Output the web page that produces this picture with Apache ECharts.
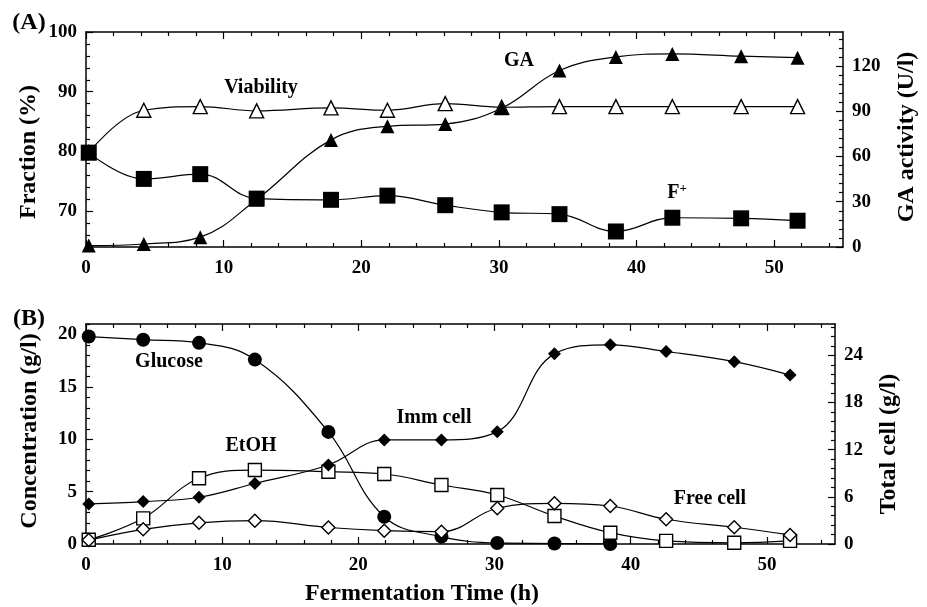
<!DOCTYPE html>
<html>
<head>
<meta charset="utf-8">
<script src="https://cdn.jsdelivr.net/npm/echarts@6/dist/echarts.min.js"></script>
<style>
  html, body { margin: 0; padding: 0; background: #fff; }
  #main { width: 927px; height: 607px; }
</style>
</head>
<body>
<div id="main"></div>
<script>
// sampling times (h), shared by both panels
var timeH = [0.2, 4.2, 8.3, 12.4, 17.8, 21.9, 26.1, 30.2, 34.4, 38.5, 42.6, 47.6, 51.7];

// (A) fraction (%) and GA activity (U/l)
var viability = [79.8, 86.9, 87.5, 86.8, 87.3, 86.9, 88.0, 87.4, 87.5, 87.5, 87.5, 87.5, 87.5];
var fPlus = [79.8, 75.4, 76.2, 72.1, 71.9, 72.6, 71.0, 69.8, 69.5, 66.6, 68.9, 68.8, 68.4];
var gaActivity = [1, 2, 6.5, 31.5, 71, 80, 81.5, 92, 117, 126, 128, 126.5, 125.5];

// (B) concentration (g/l) and total cell (g/l)
var glucose = [19.8, 19.5, 19.2, 17.6, 10.7, 2.6, 0.7, 0.1, 0.05, 0, null, null, null];
var ethanol = [0.4, 2.45, 6.27, 7.06, 6.9, 6.68, 5.63, 4.68, 2.67, 1.08, 0.3, 0.12, 0.3];
var immCell = [5.1, 5.4, 5.95, 7.7, 10.06, 13.25, 13.25, 14.3, 24.2, 25.35, 24.5, 23.2, 21.5];
var freeCell = [0.5, 1.87, 2.7, 2.97, 2.1, 1.7, 1.57, 4.55, 5.18, 4.84, 3.15, 2.13, 1.15];

// tick labels
var timeTicks = [0, 10, 20, 30, 40, 50];
var fractionTicks = [70, 80, 90, 100];
var gaTicks = [0, 30, 60, 90, 120];
var concTicks = [0, 5, 10, 15, 20];
var totalCellTicks = [0, 6, 12, 18, 24];

var FONT = "Liberation Serif";

function pairs(xs, ys) {
  return xs.map(function (x, i) { return [x, ys[i]]; });
}

// minor tick positions between min and max, skipping the labelled ones
function minorTicks(min, max, step, majors) {
  var out = [];
  var n = Math.floor((max - min) / step + 1e-6);
  for (var i = 0; i <= n; i++) {
    var v = Math.round((min + i * step) * 1000) / 1000;
    if (majors.indexOf(v) < 0) out.push(v);
  }
  return out;
}

function axis(grid, pos, min, max, ticks, len, withLabels, showLine) {
  return {
    type: "value",
    gridIndex: grid,
    position: pos,
    min: min,
    max: max,
    splitLine: { show: false },
    axisLine: { show: showLine, onZero: false, lineStyle: { color: "#000", width: 1.5 } },
    axisTick: { show: true, inside: true, length: len, customValues: ticks, lineStyle: { color: "#000", width: 1.2 } },
    axisLabel: {
      show: withLabels,
      customValues: withLabels ? ticks : undefined,
      margin: pos === "bottom" ? 12 : 9,
      color: "#000",
      fontFamily: FONT,
      fontWeight: "bold",
      fontSize: 19
    }
  };
}

var xAxes = [
  // panel A
  axis(0, "bottom", 0, 55, timeTicks, 7, true, true),
  axis(0, "bottom", 0, 55, minorTicks(0, 55, 2, timeTicks), 4, false, false),
  axis(0, "top", 0, 55, timeTicks, 7, false, true),
  axis(0, "top", 0, 55, minorTicks(0, 55, 2, timeTicks), 4, false, false),
  // panel B
  axis(1, "bottom", 0, 55, timeTicks, 7, true, true),
  axis(1, "bottom", 0, 55, minorTicks(0, 55, 2, timeTicks), 4, false, false),
  axis(1, "top", 0, 55, timeTicks, 7, false, true),
  axis(1, "top", 0, 55, minorTicks(0, 55, 2, timeTicks), 4, false, false)
];

var yAxes = [
  // panel A
  axis(0, "left", 64, 100, fractionTicks, 7, true, true),
  axis(0, "left", 64, 100, minorTicks(64, 100, 2, fractionTicks), 4, false, false),
  axis(0, "right", 0, 142.5, gaTicks, 7, true, true),
  axis(0, "right", 0, 142.5, minorTicks(0, 142.5, 6, gaTicks), 4, false, false),
  // panel B
  axis(1, "left", 0, 21, concTicks, 7, true, true),
  axis(1, "left", 0, 21, minorTicks(0, 21, 1, concTicks), 4, false, false),
  axis(1, "right", 0, 28, totalCellTicks, 7, true, true),
  axis(1, "right", 0, 28, minorTicks(0, 28, 1.2, totalCellTicks), 4, false, false)
];

function line(name, xi, yi, data, symbol, size, filled) {
  return {
    name: name,
    type: "line",
    xAxisIndex: xi,
    yAxisIndex: yi,
    data: pairs(timeH, data),
    smooth: 0.4,
    symbol: symbol,
    symbolSize: size,
    showAllSymbol: true,
    lineStyle: { color: "#000", width: 1.2 },
    itemStyle: {
      color: filled ? "#000" : "#fff",
      borderColor: "#000",
      borderWidth: filled ? 0 : 1.4
    }
  };
}

function label(txt, x, y, size, rot) {
  return {
    type: "text",
    x: x,
    y: y,
    rotation: rot || 0,
    style: {
      text: txt,
      fill: "#000",
      font: "bold " + size + "px '" + FONT + "'",
      align: "center",
      verticalAlign: "middle"
    }
  };
}

var chart = echarts.init(document.getElementById("main"));
chart.setOption({
  animation: false,
  backgroundColor: "#fff",
  grid: [
    { left: 86, right: 84, top: 32, height: 215 },
    { left: 86, right: 92, top: 324, height: 220 }
  ],
  xAxis: xAxes,
  yAxis: yAxes,
  series: [
    line("Viability", 0, 0, viability, "triangle", 14, false),
    line("F+", 0, 0, fPlus, "rect", 16, true),
    line("GA", 0, 2, gaActivity, "triangle", 14, true),
    line("Glucose", 4, 4, glucose, "circle", 14, true),
    line("EtOH", 4, 4, ethanol, "rect", 13, false),
    line("Imm cell", 4, 6, immCell, "diamond", 13, true),
    line("Free cell", 4, 6, freeCell, "diamond", 13, false)
  ],
  graphic: [
    label("(A)", 29, 23, 24),
    label("(B)", 29, 319, 24),
    label("Fraction (%)", 29, 152, 24, Math.PI / 2),
    label("GA activity (U/l)", 907, 137, 24, Math.PI / 2),
    label("Concentration (g/l)", 30, 431, 24, Math.PI / 2),
    label("Total cell (g/l)", 889, 444, 24, Math.PI / 2),
    label("Fermentation Time (h)", 422, 594, 24),
    label("Viability", 261, 88, 20),
    label("GA", 519, 61, 20),
    {
      type: "text",
      x: 677,
      y: 193,
      style: {
        text: "F{s|+}",
        fill: "#000",
        font: "bold 20px '" + FONT + "'",
        align: "center",
        verticalAlign: "middle",
        rich: { s: { fontSize: 13, fontWeight: "bold", fontFamily: FONT, verticalAlign: "top", padding: [0, 0, 8, 0] } }
      }
    },
    label("Glucose", 169, 362, 20),
    label("EtOH", 251, 446, 20),
    label("Imm cell", 434, 418, 20),
    label("Free cell", 710, 499, 20)
  ]
});
</script>
</body>
</html>
